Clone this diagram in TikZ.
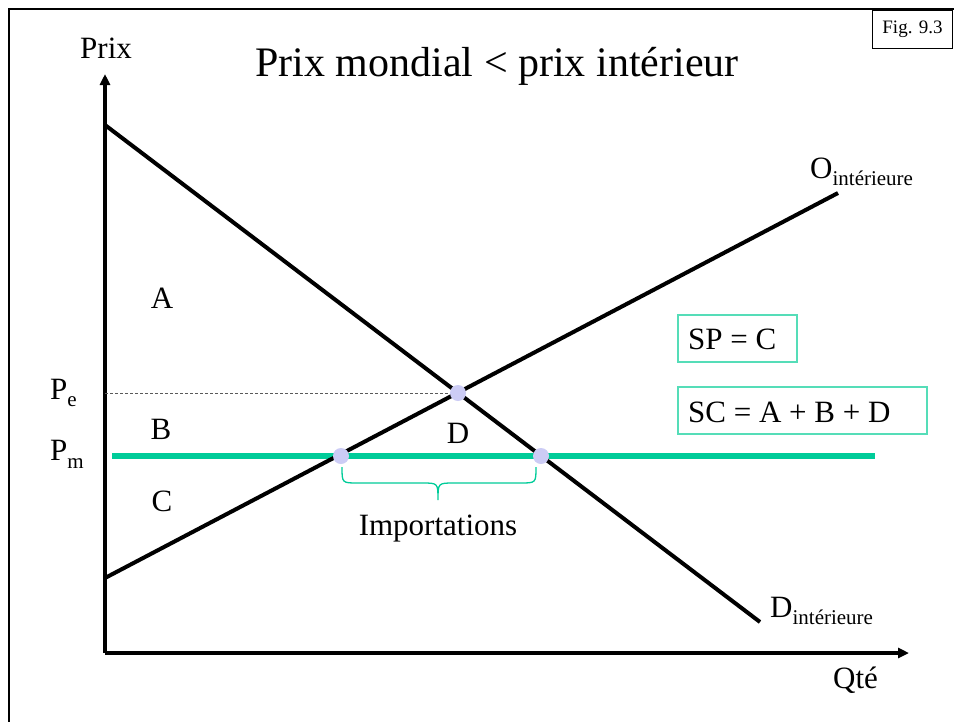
\documentclass[tikz,border=0pt]{standalone}
\usepackage{fontspec}
\setmainfont{Liberation Serif}
\usetikzlibrary{arrows.meta}
\definecolor{mgreen}{HTML}{00CC99}
\definecolor{boxgreen}{HTML}{55DDB8}
\definecolor{dotc}{HTML}{CCCCF5}
\newcommand{\fs}[1]{\fontsize{#1}{#1}\selectfont}
\begin{document}
\begin{tikzpicture}[x=1pt,y=-1pt,
  lbl/.style={inner sep=0pt,anchor=base west,font=\fs{31}},
  curve/.style={line width=4pt},
  axis/.style={line width=3.5pt,-{Triangle[length=11pt,width=10pt]}},
  dot/.style={circle,fill=dotc,inner sep=0pt,minimum size=16pt},
  eqbox/.style={draw=boxgreen,line width=1.5pt,inner sep=0pt},
  bracestyle/.style={mgreen,line width=1.3pt}]
\useasboundingbox (0,0) rectangle (954,721);
\fill[white] (0,0) rectangle (954,721);
% frame
\draw[line width=2.5pt] (9,725) -- (9,9) -- (960,9);
% fig box
\node[draw,line width=1pt,minimum width=80pt,minimum height=38pt,anchor=north west,inner sep=0pt,font=\fs{19}] (fig) at (872,10) {Fig. 9.3};
% title
\node[font=\fs{42},inner sep=0pt] (title) at (497,66) {Prix mondial < prix intérieur};
% axes
\coordinate (orig) at (105,653);
\coordinate (ytop) at (105,74);
\coordinate (xend) at (909,653);
\draw[axis] (orig) -- (ytop);
\draw[axis] (orig) -- (xend);
\node[lbl] (prix) at (80,58) {Prix};
\node[lbl] (qte) at (833,688) {Qté};
% curves
\coordinate (d1) at (105,125);
\coordinate (d2) at (760,622);
\coordinate (s1) at (105,578);
\coordinate (s2) at (838,193);
\coordinate (E) at (458,393);
\coordinate (M1) at (341,456);
\coordinate (M2) at (541,456);
\draw[gray!70!black,line width=0.9pt,dash pattern=on 3pt off 2pt] (105,393) -- (E);
\draw[mgreen,line width=5.5pt] (112,456) -- (875,456);
\draw[curve] (d1) -- (d2);
\draw[curve] (s1) -- (s2);
\node[dot] (eq) at (E) {};
\node[dot] (m1) at (M1) {};
\node[dot] (m2) at (M2) {};
% brace
\coordinate (bl) at (342,467);
\coordinate (br) at (536,467);
\coordinate (bt) at (438,500);
\draw[bracestyle] (bl) .. controls (342,483) .. (358,483) -- (422,483)
  .. controls (438,483) .. (bt) .. controls (438,483) .. (454,483) -- (520,483)
  .. controls (536,483) .. (br);
\node[lbl,anchor=base] (imp) at (438,535) {Importations};
% curve labels
\node[lbl] (O) at (810,178) {O\raisebox{-7pt}{\fs{21}intérieure}};
\node[lbl] (D) at (770,617) {D\raisebox{-7pt}{\fs{21}intérieure}};
% price labels
\node[lbl] (pe) at (50,399) {P\raisebox{-7pt}{\fs{21}e}};
\node[lbl] (pm) at (50,460) {P\raisebox{-8pt}{\fs{21}m}};
% areas
\node[lbl,anchor=base] (A) at (162,308) {A};
\node[lbl,anchor=base] (B) at (161,439) {B};
\node[lbl,anchor=base] (C) at (162,511) {C};
\node[lbl,anchor=base] (Dl) at (458,443) {D};
% boxes
\draw[eqbox] (678,315) rectangle (797,362);
\node[lbl] (sp) at (688,349) {SP = C};
\draw[eqbox] (678,387) rectangle (927,434);
\node[lbl] (sc) at (688,422) {SC = A + B + D};
\end{tikzpicture}
\end{document}
